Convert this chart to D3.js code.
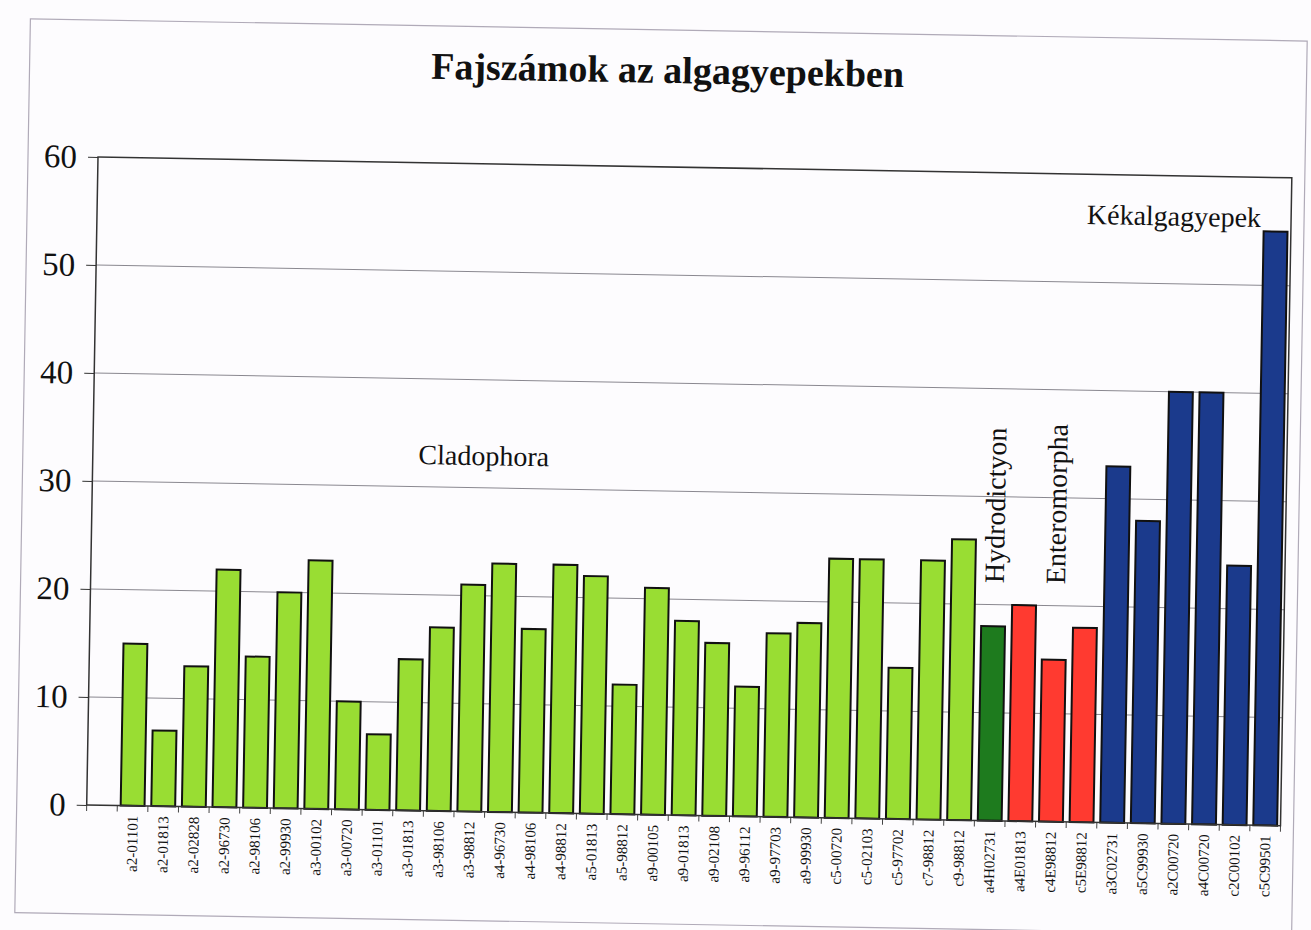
<!DOCTYPE html>
<html><head><meta charset="utf-8">
<script src="https://cdn.jsdelivr.net/npm/d3@7"></script>
<style>html,body{margin:0;padding:0;background:#fdfcfe;} svg{display:block;}</style>
</head><body>
<svg id="chart" width="1311" height="930"></svg>
<script>
const categories = ["a2-01101","a2-01813","a2-02828","a2-96730","a2-98106","a2-99930","a3-00102","a3-00720","a3-01101","a3-01813","a3-98106","a3-98812","a4-96730","a4-98106","a4-98812","a5-01813","a5-98812","a9-00105","a9-01813","a9-02108","a9-96112","a9-97703","a9-99930","c5-00720","c5-02103","c5-97702","c7-98812","c9-98812","a4H02731","a4E01813","c4E98812","c5E98812","a3C02731","a5C99930","a2C00720","a4C00720","c2C00102","c5C99501"];
const values = [15,7,13,22,14,20,23,10,7,14,17,21,23,17,23,22,12,21,18,16,12,17,18,24,24,14,24,26,18,20,15,18,33,28,40,40,24,55];
const groups = ["Cladophora","Cladophora","Cladophora","Cladophora","Cladophora","Cladophora","Cladophora","Cladophora","Cladophora","Cladophora","Cladophora","Cladophora","Cladophora","Cladophora","Cladophora","Cladophora","Cladophora","Cladophora","Cladophora","Cladophora","Cladophora","Cladophora","Cladophora","Cladophora","Cladophora","Cladophora","Cladophora","Cladophora","Hydrodictyon","Enteromorpha","Enteromorpha","Enteromorpha","Kékalgagyepek","Kékalgagyepek","Kékalgagyepek","Kékalgagyepek","Kékalgagyepek","Kékalgagyepek"];
const groupNames = ["Cladophora","Hydrodictyon","Enteromorpha","Kékalgagyepek"];
const groupColors = ["#99dd33","#1e7b1e","#ff3a30","#1b3a8c"];
const yTicks = [0,10,20,30,40,50,60];
const titleText = "Fajszámok az algagyepekben";

const W = 1194, H = 648;
const serif = "'Liberation Serif','Times New Roman',serif";
const svg = d3.select("#chart");
const g = svg.append("g").attr("transform","translate(98,157) rotate(1)");

const x = d3.scaleBand().domain(["", ...categories]).range([0, W]).paddingInner(0.22).paddingOuter(0.11);
const y = d3.scaleLinear().domain([0, 60]).range([H, 0]);
const color = d3.scaleOrdinal().domain(groupNames).range(groupColors);
const bw = x.bandwidth();

// outer frame
g.append("rect").attr("x", -70).attr("y", -137).attr("width", 1277).attr("height", 894)
  .attr("fill", "none").attr("stroke", "#b0aab8").attr("stroke-width", 1.2);

// title
g.append("text").attr("x", 568).attr("y", -84).attr("text-anchor", "middle")
  .attr("font-family", serif).attr("font-weight", "bold").attr("font-size", 38)
  .attr("fill", "#111").text(titleText);

// gridlines
g.append("g").selectAll("line").data(yTicks.filter(t => t > 0 && t < 60)).join("line")
  .attr("x1", 0).attr("x2", W).attr("y1", d => y(d)).attr("y2", d => y(d))
  .attr("stroke", "#8a8890").attr("stroke-width", 1);

// y axis
const ya = g.append("g").call(d3.axisLeft(y).tickValues(yTicks).tickSize(10).tickPadding(11));
ya.select(".domain").remove();
ya.selectAll("line").attr("stroke", "#333");
ya.selectAll("text").attr("font-family", serif).attr("font-size", 33).attr("fill", "#111");

// x ticks at band boundaries
const nb = x.domain().length;
g.append("g").selectAll("line").data(d3.range(0, nb + 1)).join("line")
  .attr("x1", i => i * x.step()).attr("x2", i => i * x.step())
  .attr("y1", H).attr("y2", H + 6).attr("stroke", "#444").attr("stroke-width", 1);

// x labels
g.append("g").selectAll("text").data(categories).join("text")
  .attr("transform", d => `translate(${x(d) + bw / 2},${H + 10}) rotate(-90)`)
  .attr("text-anchor", "end").attr("dy", "0.35em")
  .attr("font-family", serif).attr("font-size", 15).attr("fill", "#111")
  .text(d => d);

// bars
g.append("g").selectAll("rect").data(categories).join("rect")
  .attr("x", d => x(d)).attr("width", bw)
  .attr("y", (d, i) => y(values[i])).attr("height", (d, i) => H - y(values[i]))
  .attr("fill", (d, i) => color(groups[i]))
  .attr("stroke", "#111").attr("stroke-width", 2);

// plot border
g.append("rect").attr("x", 0).attr("y", 0).attr("width", W).attr("height", H)
  .attr("fill", "none").attr("stroke", "#333").attr("stroke-width", 1.5);

// annotations
const ann = g.append("g").attr("font-family", serif).attr("font-size", 28).attr("fill", "#111");
ann.append("text").attr("x", (x("a3-98812") + x("a4-96730")) / 2 + bw / 2 - 7).attr("y", y(33))
  .attr("text-anchor", "middle").attr("dy", "0.35em").text("Cladophora");
ann.append("text")
  .attr("transform", `translate(${x("a4H02731") + bw / 2},${y(22)}) rotate(-90)`)
  .attr("text-anchor", "start").attr("dy", "0.35em").text("Hydrodictyon");
ann.append("text")
  .attr("transform", `translate(${x("c4E98812") + bw / 2},${y(22)}) rotate(-90)`)
  .attr("text-anchor", "start").attr("dy", "0.35em").text("Enteromorpha");
ann.append("text").attr("x", x("a2C00720") + bw / 2 - 10).attr("y", y(56.3))
  .attr("text-anchor", "middle").attr("dy", "0.35em").text("Kékalgagyepek");
</script>
</body></html>
